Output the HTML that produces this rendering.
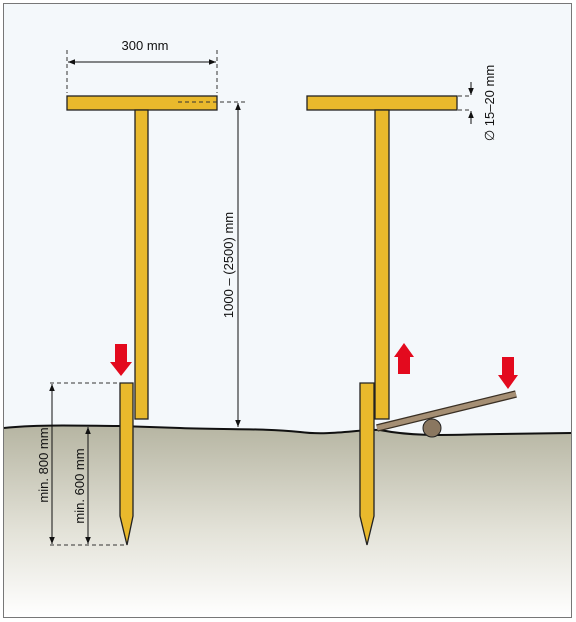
<!DOCTYPE html>
<html><head><meta charset="utf-8"><style>
html,body{margin:0;padding:0;background:#fff}
svg{display:block}
text{font-family:"Liberation Sans",sans-serif;font-size:13px;fill:#111}
</style></head><body>
<svg width="576" height="622" viewBox="0 0 576 622">
<defs>
<linearGradient id="g" x1="0" y1="0" x2="0" y2="1">
<stop offset="0" stop-color="#b6b5a2"/><stop offset="0.55" stop-color="#e3e2d8"/><stop offset="1" stop-color="#ffffff"/>
</linearGradient>
<marker id="a" viewBox="0 0 10 10" refX="10" refY="5" markerWidth="7" markerHeight="7" orient="auto-start-reverse"><path d="M0,1 L10,5 L0,9z" fill="#111"/></marker>
</defs>
<rect x="3.5" y="3.5" width="568" height="614" fill="#f4f8fb" stroke="#777"/>
<path d="M4,428 C40,424 90,426 120,426 L180,428 C230,430 260,428 300,432 C330,436 360,429 380,430 C420,438 460,434 500,434 L571,433 L571,617 L4,617 Z" fill="url(#g)" stroke="none"/>
<path d="M4,428 C40,424 90,426 120,426 L180,428 C230,430 260,428 300,432 C330,436 360,429 380,430 C420,438 460,434 500,434 L571,433" fill="none" stroke="#111" stroke-width="2"/>
<g fill="#e9b92c" stroke="#222" stroke-width="1.3">
<rect x="67" y="96" width="150" height="14"/>
<rect x="135" y="110" width="13" height="309"/>
<rect x="307" y="96" width="150" height="14"/>
<rect x="375" y="110" width="14" height="309"/>
<path d="M120,383 L133,383 L133,516 L127,545 L120,516 Z"/>
<path d="M360,383 L374,383 L374,516 L367,545 L360,516 Z"/>
</g>
<line x1="377" y1="428" x2="516" y2="394" stroke="#3a3024" stroke-width="7.5"/>
<line x1="377" y1="428" x2="516" y2="394" stroke="#a58f74" stroke-width="5"/>
<circle cx="432" cy="428" r="9" fill="#8a7760" stroke="#222"/>
<g fill="#e30a1e">
<path d="M115,344 L127,344 L127,362 L132,362 L121,376 L110,362 L115,362 Z"/>
<path d="M398,374 L410,374 L410,357 L414,357 L404,343 L394,357 L398,357 Z"/>
<path d="M502,357 L514,357 L514,375 L518,375 L508,389 L498,375 L502,375 Z"/>
</g>
<g stroke="#333" stroke-width="1" stroke-dasharray="4,3" fill="none">
<line x1="67" y1="50" x2="67" y2="93"/><line x1="217" y1="50" x2="217" y2="93"/>
<line x1="178" y1="102" x2="248" y2="102"/>
<line x1="458" y1="96" x2="472" y2="96"/><line x1="458" y1="110" x2="472" y2="110"/>
<line x1="50" y1="383" x2="119" y2="383"/><line x1="50" y1="545" x2="127" y2="545"/>
</g>
<g stroke="#111" stroke-width="1">
<line x1="68" y1="62" x2="216" y2="62" marker-start="url(#a)" marker-end="url(#a)"/>
<line x1="238" y1="103" x2="238" y2="427" marker-start="url(#a)" marker-end="url(#a)"/>
<line x1="471" y1="82" x2="471" y2="95" marker-end="url(#a)"/>
<line x1="471" y1="124" x2="471" y2="111" marker-end="url(#a)"/>
<line x1="52" y1="384" x2="52" y2="544" marker-start="url(#a)" marker-end="url(#a)"/>
<line x1="88" y1="427" x2="88" y2="544" marker-start="url(#a)" marker-end="url(#a)"/>
</g>
<text x="145" y="50" text-anchor="middle">300 mm</text>
<text transform="translate(233,265) rotate(-90)" text-anchor="middle">1000 – (2500) mm</text>
<text transform="translate(494,103) rotate(-90)" text-anchor="middle">∅ 15–20 mm</text>
<text transform="translate(48,465) rotate(-90)" text-anchor="middle">min. 800 mm</text>
<text transform="translate(84,486) rotate(-90)" text-anchor="middle">min. 600 mm</text>
</svg>
</body></html>
